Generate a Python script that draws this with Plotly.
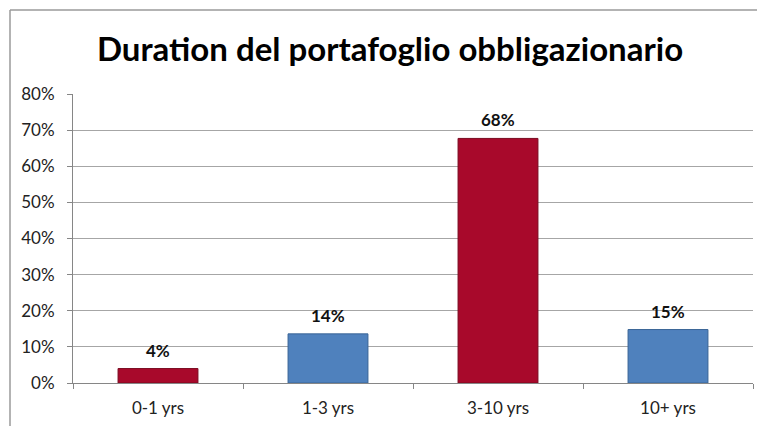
import plotly.graph_objects as go

categories = ["0-1 yrs", "1-3 yrs", "3-10 yrs", "10+ yrs"]
values = [0.04, 0.136, 0.677, 0.148]
bar_colors = ["#A8092B", "#4F81BD", "#A8092B", "#4F81BD"]
line_colors = ["#7A0A20", "#3A6596", "#7A0A20", "#3A6596"]
y_ticks = [0, 0.1, 0.2, 0.3, 0.4, 0.5, 0.6, 0.7, 0.8]
title_text = "Duration del portafoglio obbligazionario"

FONT = "Lato, 'Open Sans', sans-serif"

# page body has an 8px default margin; work in figure coordinates
OFF = 8
W, H = 765 - OFF, 426 - OFF
L, R, T, B = 73 - OFF, 12, 94 - OFF, 43
pw, ph = W - L - R, H - T - B

fig = go.Figure()
fig.add_trace(go.Bar(
    x=categories, y=values,
    marker=dict(color=bar_colors, line=dict(color=line_colors, width=1)),
    width=0.47,
    hoverinfo="skip",
))

annotations = []
for c, v in zip(categories, values):
    annotations.append(dict(
        x=c, y=v, xref="x", yref="y", text=f"<b>{v:.0%}</b>",
        showarrow=False, yanchor="bottom", yshift=6,
        font=dict(family=FONT, size=17, color="#111111"),
    ))
annotations.append(dict(
    x=(390 - 73) / pw, y=1 + (94 - 48) / ph, xref="paper", yref="paper",
    text=f"<b>{title_text}</b>", showarrow=False, xanchor="center", yanchor="middle",
    font=dict(family=FONT, size=33, color="#000000"),
))

fx = (10 - OFF - L) / pw
fy = 1 + (T - (10 - OFF)) / ph
shapes = [
    dict(type="line", xref="paper", yref="paper",
         x0=fx, x1=fx, y0=-(B + 5) / ph, y1=fy,
         line=dict(color="#9A9A9A", width=1.5)),
    dict(type="line", xref="paper", yref="paper",
         x0=fx, x1=(W + 10 - L) / pw, y0=fy, y1=fy,
         line=dict(color="#9A9A9A", width=1.5)),
]

fig.update_layout(
    width=W, height=H,
    margin=dict(l=L, r=R, t=T, b=B, autoexpand=False),
    paper_bgcolor="white", plot_bgcolor="white",
    showlegend=False,
    annotations=annotations,
    shapes=shapes,
    font=dict(family=FONT, size=17, color="#222222"),
    xaxis=dict(
        type="category", showline=True, linecolor="#868686", linewidth=1,
        ticks="outside", tickson="boundaries", ticklen=5, tickcolor="#868686",
        showgrid=False, tickfont=dict(size=17, color="#222222"),
        ticklabelstandoff=10, automargin=False,
        range=[-0.5, 3.5],
    ),
    yaxis=dict(
        range=[0, 0.8], tickvals=y_ticks, tickformat=".0%",
        showline=True, linecolor="#868686", linewidth=1,
        ticks="outside", ticklen=5, tickcolor="#868686",
        showgrid=True, gridcolor="#A6A6A6", gridwidth=1,
        zeroline=False, tickfont=dict(size=17, color="#222222"),
        ticklabelstandoff=9, automargin=False,
    ),
)

fig.write_html("out.html")
